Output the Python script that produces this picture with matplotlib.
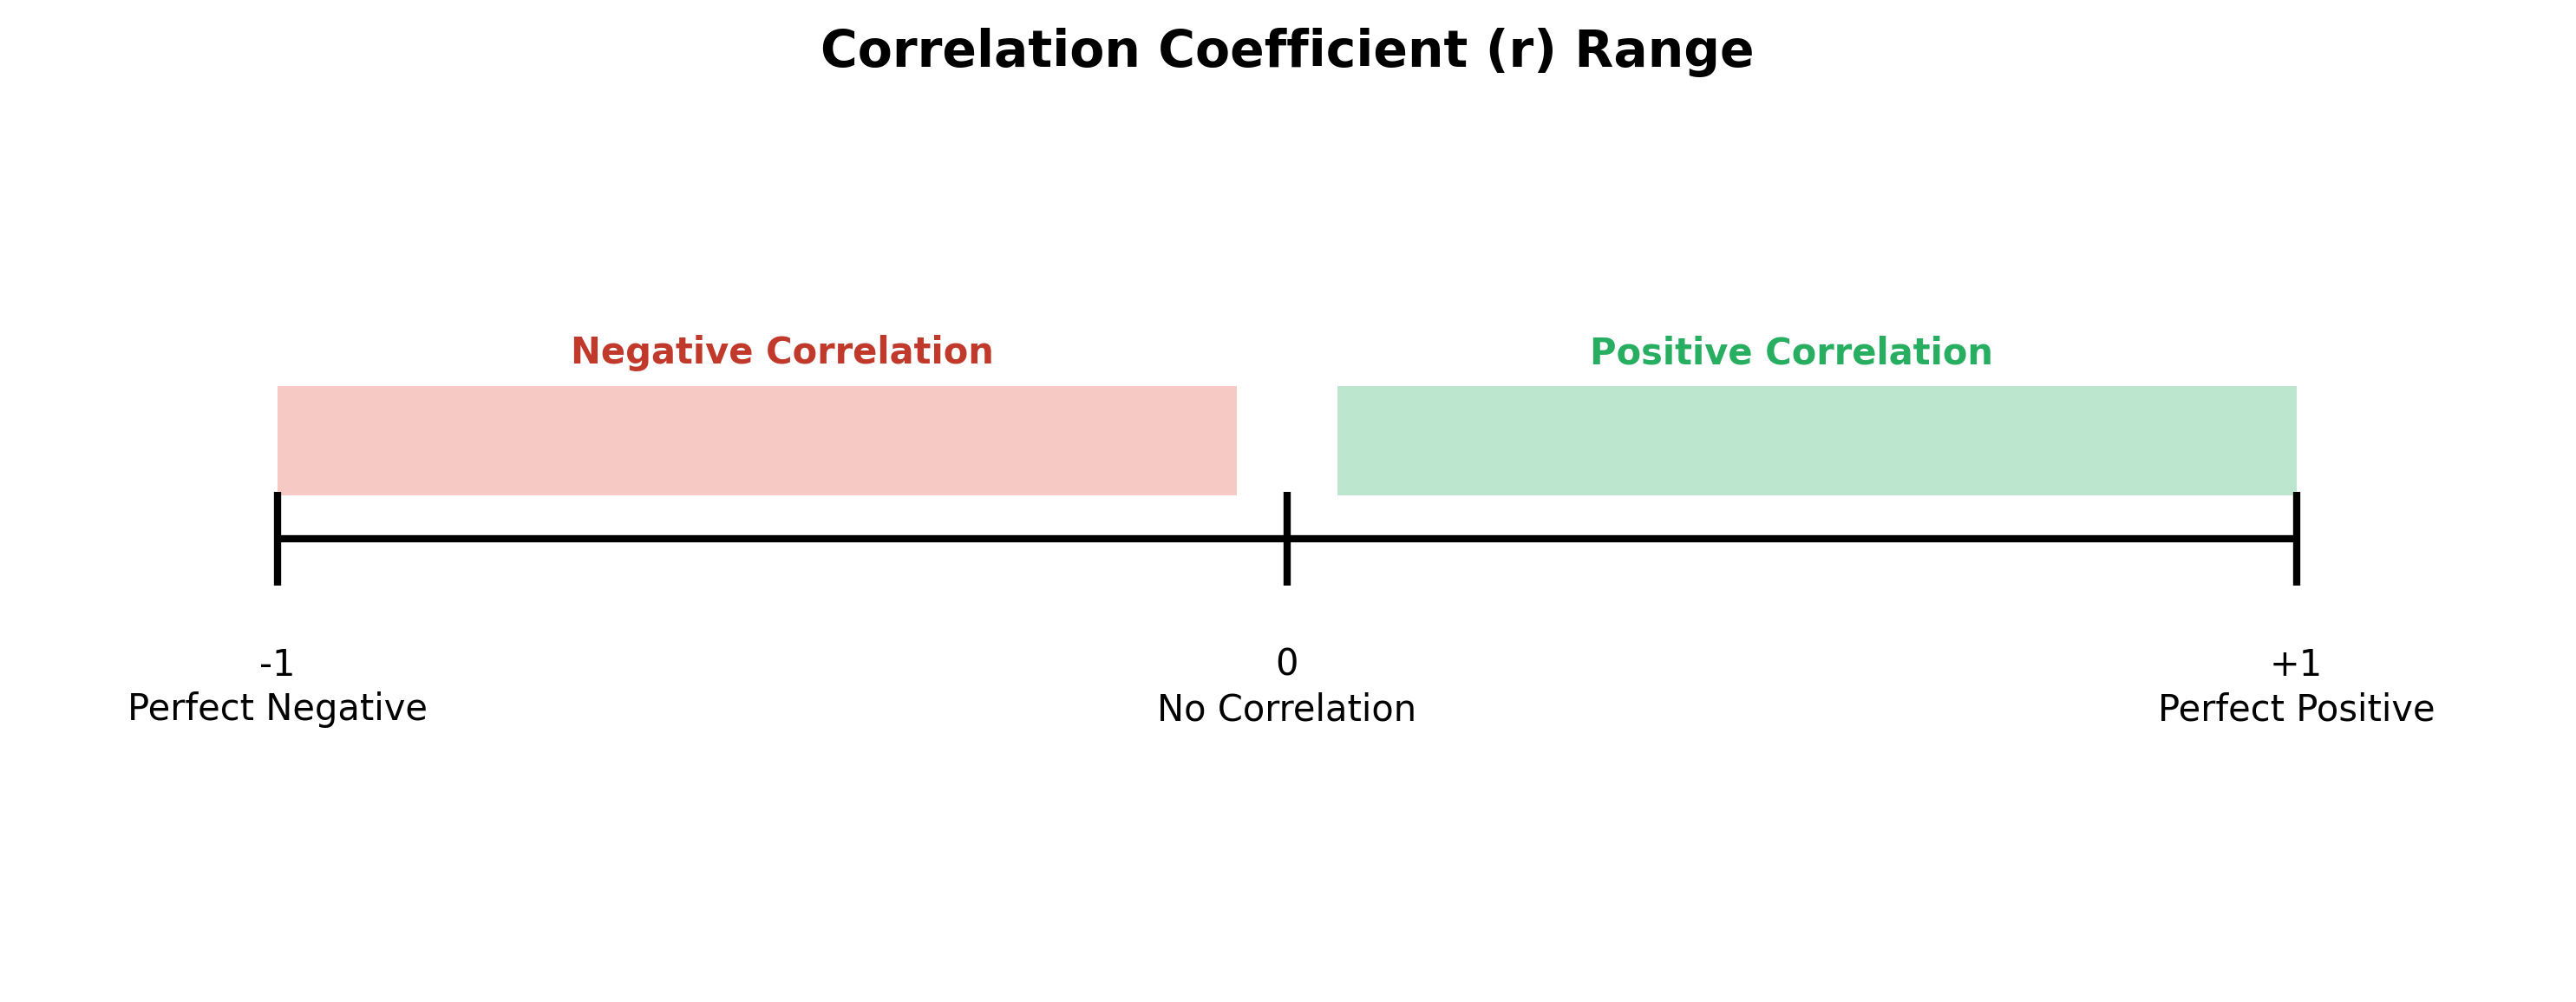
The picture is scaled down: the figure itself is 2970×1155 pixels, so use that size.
import matplotlib
matplotlib.use('Agg')
import matplotlib.pyplot as plt

# data
tick_values = [-1, 0, 1]
tick_labels = ['-1', '0', '+1']
tick_names = ['Perfect Negative', 'No Correlation', 'Perfect Positive']
region_names = ['Negative Correlation', 'Positive Correlation']
region_start = [-1, 0.05]
region_end = [-0.05, 1]
region_label_x = [-0.5, 0.5]
region_colors = ['#e74c3c', '#27ae60']
region_text_colors = ['#c0392b', '#27ae60']

fig = plt.figure(figsize=(14.85, 5.775), dpi=200)
ax = fig.add_axes([0, 0, 1, 1])
ax.set_xlim(-1.275, 1.277)
ax.set_ylim(-1.483, 1.725)
ax.axis('off')

# main line
ax.plot([-1, 1], [0, 0], color='black', lw=3, solid_capstyle='butt', zorder=3)

# ticks and labels
for v, lab, name in zip(tick_values, tick_labels, tick_names):
    ax.plot([v, v], [-0.15, 0.15], color='black', lw=3, solid_capstyle='butt', zorder=3)
    ax.text(v, -0.405, lab, ha='center', va='center', fontsize=15)
    ax.text(v, -0.547, name, ha='center', va='center', fontsize=15)

# regions
for s, e, lx, c, tc, name in zip(region_start, region_end, region_label_x,
                                  region_colors, region_text_colors, region_names):
    ax.fill_between([s, e], 0.14, 0.49, color=c, alpha=0.3, lw=0, zorder=1)
    ax.text(lx, 0.594, name, ha='center', va='center', fontsize=15,
            fontweight='bold', color=tc)

ax.text(0, 1.556, 'Correlation Coefficient (r) Range', ha='center', va='center',
        fontsize=21, fontweight='bold')

fig.savefig('out.png', dpi=200)
